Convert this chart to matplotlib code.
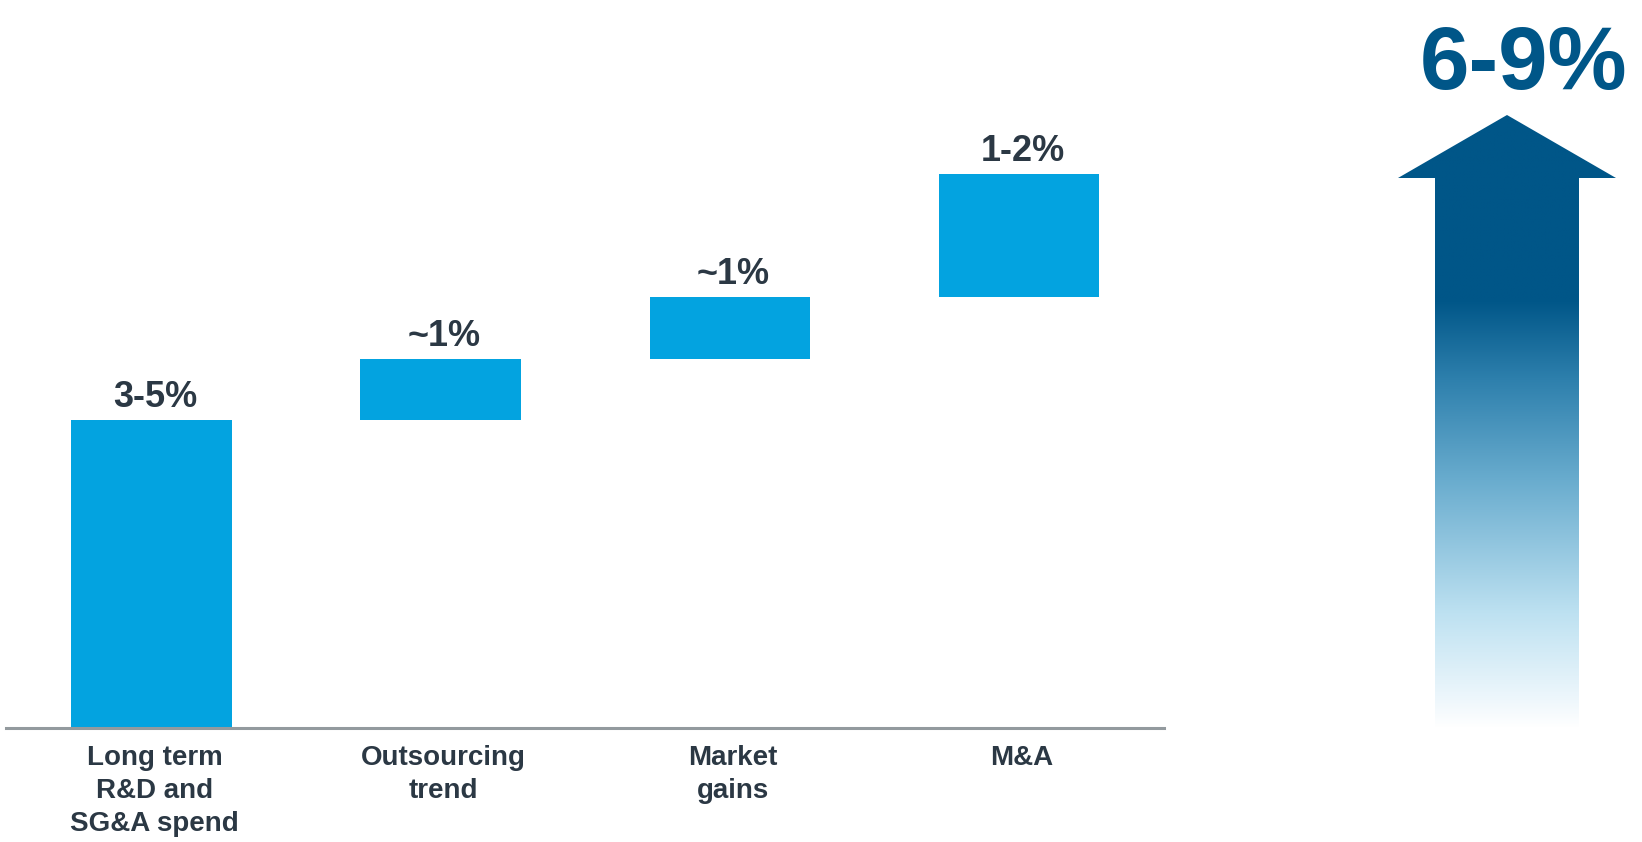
import numpy as np
import matplotlib.pyplot as plt
import matplotlib.transforms as mtransforms
from matplotlib.patches import Polygon

plt.rcParams['font.family'] = ['Liberation Sans', 'DejaVu Sans']

### data
categories = ["Long term\nR&D and\nSG&A spend", "Outsourcing\ntrend", "Market\ngains", "M&A"]
increments = [5, 1, 1, 2]          # upper end of each growth range, % points
value_labels = ["3-5%", "~1%", "~1%", "1-2%"]
total_label = "6-9%"

bar_color = '#03a3e0'
text_color = '#2b3844'
arrow_color = '#005688'

bottoms = np.concatenate([[0], np.cumsum(increments)[:-1]])
x = np.arange(len(categories))

fig = plt.figure(figsize=(16.42, 8.42), dpi=100)

# waterfall axes
ax = fig.add_axes([0.00365, 0.1354, 0.7052, 0.8646])
ax.bar(x, increments, bottom=bottoms, width=0.555, color=bar_color, zorder=2)
ax.set_xlim(-0.503, 3.501)
ax.set_ylim(0, 11.83)

for i in range(len(x)):
    ax.annotate(value_labels[i], (x[i], bottoms[i] + increments[i]),
                xytext=(2.5, 9.5), textcoords='offset points',
                ha='center', va='baseline', fontsize=26,
                fontweight='bold', color=text_color)

ax.set_xticks(x)
ax.set_xticklabels(categories, fontsize=20, fontweight='bold',
                   color=text_color, linespacing=1.36)
ax.tick_params(axis='x', length=0, pad=12)
shift = mtransforms.ScaledTranslation(3 / 100, 0, fig.dpi_scale_trans)
for lab in ax.get_xticklabels():
    lab.set_transform(lab.get_transform() + shift)
ax.set_yticks([])
for s in ['top', 'right', 'left']:
    ax.spines[s].set_visible(False)
ax.spines['bottom'].set_color('#939a9e')
ax.spines['bottom'].set_linewidth(2.2)

# big gradient arrow, drawn in pixel space
ov = fig.add_axes([0, 0, 1, 1])
ov.set_xlim(0, 1642)
ov.set_ylim(842, 0)
ov.axis('off')
ov.patch.set_alpha(0)

head_l, head_r, apex_x = 1398, 1616, 1507
shaft_l, shaft_r = 1435, 1579
apex_y, head_y, foot_y = 115, 178, 728
pts = [(apex_x, apex_y), (head_r, head_y), (shaft_r, head_y), (shaft_r, foot_y),
       (shaft_l, foot_y), (shaft_l, head_y), (head_l, head_y)]
poly = Polygon(pts, closed=True, facecolor='none', edgecolor='none')
ov.add_patch(poly)

stop_y = [apex_y, 300, 380, 480, 613, 700, foot_y]
stop_c = np.array([[0, 86, 136], [0, 86, 136], [46, 128, 173], [105, 172, 206],
                   [189, 225, 241], [238, 247, 252], [255, 255, 255]]) / 255.0
ys = np.linspace(apex_y, foot_y, 600)
grad = np.stack([np.interp(ys, stop_y, stop_c[:, k]) for k in range(3)], axis=1)
img = ov.imshow(grad[:, None, :], extent=[head_l, head_r, foot_y, apex_y],
                aspect='auto', interpolation='bilinear')
img.set_clip_path(poly)
ov.set_xlim(0, 1642)
ov.set_ylim(842, 0)

ov.text(1524, 89, total_label, ha='center', va='baseline', fontsize=64,
        fontweight='bold', color=arrow_color)

plt.savefig('out.png', dpi=100)
